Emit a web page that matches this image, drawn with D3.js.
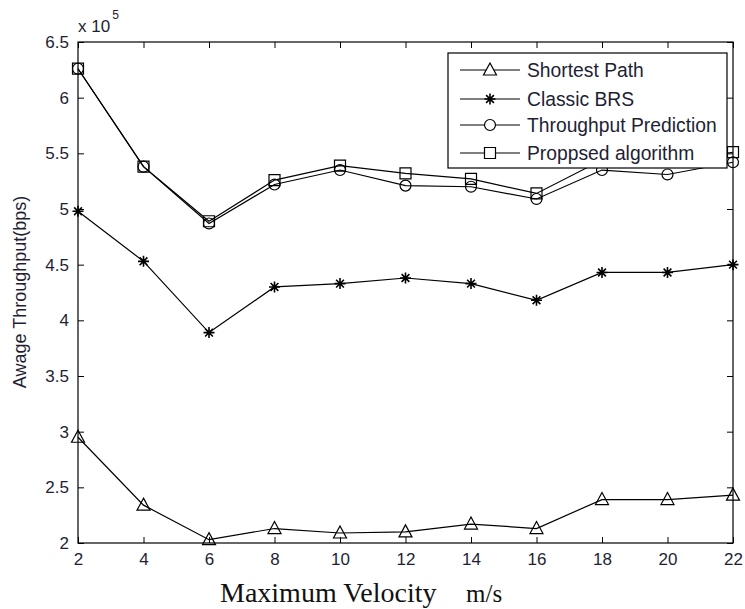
<!DOCTYPE html>
<html>
<head>
<meta charset="utf-8">
<script src="https://cdn.jsdelivr.net/npm/d3@7"></script>
<style>
  body { margin: 0; background: #fff; }
  svg { display: block; }
</style>
</head>
<body>
<script>
// velocities on the x axis
var velocities = [2, 4, 6, 8, 10, 12, 14, 16, 18, 20, 22];

// throughput values, in units of 1e5 bps
var shortestPath = [2.95, 2.34, 2.03, 2.13, 2.09, 2.10, 2.17, 2.13, 2.39, 2.39, 2.43];
var classicBRS = [4.98, 4.53, 3.89, 4.30, 4.33, 4.38, 4.33, 4.18, 4.43, 4.43, 4.50];
var throughputPrediction = [6.26, 5.38, 4.87, 5.22, 5.35, 5.21, 5.20, 5.09, 5.35, 5.31, 5.42];
var proposedAlgorithm = [6.26, 5.38, 4.89, 5.26, 5.39, 5.32, 5.27, 5.14, 5.44, 5.43, 5.51];

var seriesNames = ['Shortest Path', 'Classic BRS', 'Throughput Prediction', 'Proppsed algorithm'];
var seriesMarkers = ['triangle', 'star', 'circle', 'square'];

var yTicks = [2, 2.5, 3, 3.5, 4, 4.5, 5, 5.5, 6, 6.5];

var Chart = {

  width: 745,
  height: 609,
  left: 78,
  right: 733,
  top: 42,
  bottom: 543,
  textColor: '#1e1e34',

  svg: null,
  x: null,
  y: null,

  init: function () {

    this.svg = d3.select('body').append('svg')
      .attr('width', this.width)
      .attr('height', this.height);

    this.x = d3.scaleLinear().domain([2, 22]).range([this.left, this.right]);
    this.y = d3.scaleLinear().domain([2, 6.5]).range([this.bottom, this.top]);

    this.drawAxes();

    var all = [shortestPath, classicBRS, throughputPrediction, proposedAlgorithm];
    all.forEach(function (values, i) {
      this.drawSeries(values, seriesMarkers[i]);
    }, this);

    this.drawLegend();
    this.drawLabels();
  },

  drawAxes: function () {
    var svg = this.svg, x = this.x, y = this.y, self = this;

    var tickStyle = function (g) {
      g.select('.domain').remove();
      g.selectAll('.tick line').attr('stroke', '#000');
      g.selectAll('.tick text')
        .attr('fill', self.textColor)
        .style('font-family', 'Arial, "Liberation Sans", sans-serif')
        .style('font-size', '17px');
    };

    svg.append('g')
      .attr('transform', 'translate(0,' + this.bottom + ')')
      .call(d3.axisBottom(x).tickValues(velocities).tickSizeInner(-6).tickSizeOuter(0).tickPadding(10))
      .call(tickStyle);

    svg.append('g')
      .attr('transform', 'translate(0,' + this.top + ')')
      .call(d3.axisTop(x).tickValues(velocities).tickSizeInner(-6).tickSizeOuter(0).tickFormat(''))
      .call(tickStyle);

    svg.append('g')
      .attr('transform', 'translate(' + this.left + ',0)')
      .call(d3.axisLeft(y).tickValues(yTicks).tickSizeInner(-6).tickSizeOuter(0).tickPadding(9)
        .tickFormat(function (d) { return d3.format('~g')(d); }))
      .call(tickStyle);

    svg.append('g')
      .attr('transform', 'translate(' + this.right + ',0)')
      .call(d3.axisRight(y).tickValues(yTicks).tickSizeInner(-6).tickSizeOuter(0).tickFormat(''))
      .call(tickStyle);

    // box round the plot
    svg.append('rect')
      .attr('x', this.left)
      .attr('y', this.top)
      .attr('width', this.right - this.left)
      .attr('height', this.bottom - this.top)
      .attr('fill', 'none')
      .attr('stroke', '#000')
      .attr('stroke-width', 1.2);
  },

  markerPath: function (type) {
    if (type === 'triangle') {
      return 'M0,-7 L6.5,5 L-6.5,5 Z';
    }
    if (type === 'square') {
      return 'M-5.5,-5.5 L5.5,-5.5 L5.5,5.5 L-5.5,5.5 Z';
    }
    if (type === 'circle') {
      return d3.symbol(d3.symbolCircle, Math.PI * 30)();
    }
    // star: asterisk with eight arms
    var p = '';
    for (var a = 0; a < 4; a++) {
      var ang = a * Math.PI / 4;
      var dx = 5.5 * Math.sin(ang), dy = 5.5 * Math.cos(ang);
      p += 'M' + (-dx) + ',' + (-dy) + 'L' + dx + ',' + dy;
    }
    return p;
  },

  drawSeries: function (values, marker) {
    var x = this.x, y = this.y;
    var points = values.map(function (v, i) { return [velocities[i], v]; });

    var line = d3.line()
      .x(function (d) { return x(d[0]); })
      .y(function (d) { return y(d[1]); });

    this.svg.append('path')
      .datum(points)
      .attr('d', line)
      .attr('fill', 'none')
      .attr('stroke', '#000')
      .attr('stroke-width', 1.2);

    var shape = this.markerPath(marker);
    this.svg.append('g').selectAll('path')
      .data(points)
      .join('path')
      .attr('transform', function (d) { return 'translate(' + x(d[0]) + ',' + y(d[1]) + ')'; })
      .attr('d', shape)
      .attr('fill', 'none')
      .attr('stroke', '#000')
      .attr('stroke-width', marker === 'star' ? 1.6 : 1.2);
  },

  drawLegend: function () {
    var self = this;
    var lg = this.svg.append('g').attr('transform', 'translate(448,53)');

    lg.append('rect')
      .attr('width', 279)
      .attr('height', 115)
      .attr('fill', '#fff')
      .attr('stroke', '#000')
      .attr('stroke-width', 1.2);

    var rowY = [17, 46, 72, 100];

    seriesNames.forEach(function (name, i) {
      var row = lg.append('g').attr('transform', 'translate(0,' + rowY[i] + ')');
      row.append('line')
        .attr('x1', 12).attr('x2', 72)
        .attr('stroke', '#000').attr('stroke-width', 1.2);
      row.append('path')
        .attr('transform', 'translate(42,0)')
        .attr('d', self.markerPath(seriesMarkers[i]))
        .attr('fill', '#fff')
        .attr('stroke', '#000')
        .attr('stroke-width', seriesMarkers[i] === 'star' ? 1.6 : 1.2);
      row.append('text')
        .attr('x', 79)
        .attr('dy', '0.35em')
        .attr('fill', self.textColor)
        .style('font-family', 'Arial, "Liberation Sans", sans-serif')
        .style('font-size', '19.3px')
        .text(name);
    });
  },

  drawLabels: function () {
    var svg = this.svg;

    // exponent above the y axis
    var ex = svg.append('text')
      .attr('x', 78)
      .attr('y', 32)
      .attr('fill', this.textColor)
      .style('font-family', 'Arial, "Liberation Sans", sans-serif')
      .style('font-size', '17px')
      .text('x 10');
    ex.append('tspan')
      .attr('dx', 2)
      .attr('dy', -13)
      .style('font-size', '12px')
      .text('5');

    svg.append('text')
      .attr('transform', 'translate(26,292) rotate(-90)')
      .attr('text-anchor', 'middle')
      .attr('fill', this.textColor)
      .style('font-family', 'Arial, "Liberation Sans", sans-serif')
      .style('font-size', '18px')
      .text('Awage Throughput(bps)');

    svg.append('text')
      .attr('x', 220)
      .attr('y', 602)
      .attr('fill', '#111')
      .style('font-family', '"Times New Roman", "Liberation Serif", serif')
      .style('font-size', '28px')
      .text('Maximum Velocity');

    svg.append('text')
      .attr('x', 466)
      .attr('y', 602)
      .attr('fill', '#111')
      .style('font-family', '"Times New Roman", "Liberation Serif", serif')
      .style('font-size', '25px')
      .text('m/s');
  }
};

Chart.init();
</script>
</body>
</html>
